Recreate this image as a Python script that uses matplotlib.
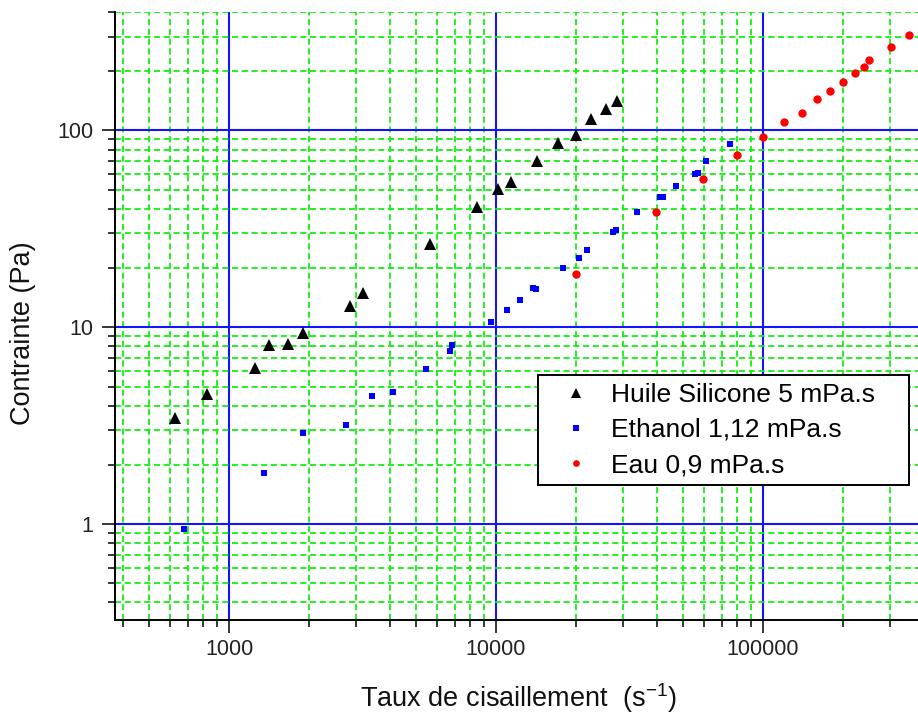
import matplotlib
matplotlib.use("Agg")
import matplotlib.pyplot as plt
from matplotlib.ticker import LogLocator, NullFormatter, FixedLocator, FixedFormatter

plt.rcParams['font.family'] = ['Liberation Sans', 'DejaVu Sans']

# ---- data ----
huile_x = [629, 825, 1255, 1408, 1666, 1888, 2839, 3162, 5635, 8488, 10148, 11380,
           14240, 17120, 19980, 22690, 25710, 28440]
huile_y = [3.47, 4.57, 6.21, 8.10, 8.27, 9.32, 12.8, 15.0, 26.5, 40.7, 50.2, 54.5,
           69.8, 86.4, 94.9, 114.8, 128.9, 142.0]

ethanol_x = [680, 1356, 1898, 2743, 3432, 4114, 5453, 6724, 6825, 9561, 11022, 12296,
             13723, 14117, 17806, 20400, 21860, 27400, 28170, 33830, 41250, 42330,
             47350, 55490, 56940, 60950, 75220]
ethanol_y = [0.943, 1.81, 2.89, 3.18, 4.49, 4.68, 6.12, 7.55, 8.10, 10.66, 12.2, 13.7,
             15.8, 15.65, 20.1, 22.5, 24.8, 30.4, 31.1, 38.7, 45.9, 45.9,
             52.5, 60.3, 61.0, 70.0, 84.9]

eau_x = [19850, 39740, 59700, 79690, 99750, 119500, 140000, 159750, 178200, 199800,
         221100, 239500, 250100, 300800, 351300]
eau_y = [18.6, 38.7, 56.9, 74.9, 92.5, 109.8, 123.0, 143.7, 159.6, 177.3,
         195.4, 210.6, 227.5, 266.0, 307.1]

labels = ["Huile Silicone 5 mPa.s", "Ethanol 1,12 mPa.s", "Eau 0,9 mPa.s"]
x_major = [1000, 10000, 100000]
x_major_labels = ["1000", "10000", "100000"]
y_major = [1, 10, 100]
y_major_labels = ["1", "10", "100"]
x_label = "Taux de cisaillement  (s$^{\\mathregular{-1}}$)"
y_label = "Contrainte (Pa)"

# ---- figure ----
W, H = 918, 715
fig = plt.figure(figsize=(W / 100, H / 100), dpi=100)
ax_left, ax_right, ax_top, ax_bottom = 115, 918, 12, 620
aw, ah = ax_right - ax_left, ax_bottom - ax_top
ax = fig.add_axes([ax_left / W, 1 - ax_bottom / H, aw / W, ah / H])

ax.set_xscale('log')
ax.set_yscale('log')
ax.set_xlim(374, 380600)
ax.set_ylim(0.3256, 400)

green = '#11f011'
blue_grid = '#1414ff'

ax.xaxis.set_major_locator(FixedLocator(x_major))
ax.xaxis.set_major_formatter(FixedFormatter(x_major_labels))
ax.yaxis.set_major_locator(FixedLocator(y_major))
ax.yaxis.set_major_formatter(FixedFormatter(y_major_labels))
ax.xaxis.set_minor_locator(LogLocator(base=10, subs=range(2, 10), numticks=20))
ax.yaxis.set_minor_locator(LogLocator(base=10, subs=range(2, 10), numticks=20))
ax.xaxis.set_minor_formatter(NullFormatter())
ax.yaxis.set_minor_formatter(NullFormatter())

ax.grid(which='minor', color=green, linewidth=1.3, linestyle=(0, (3.4, 2.0)), zorder=1)
ax.grid(which='major', color=blue_grid, linewidth=1.5, linestyle='-', zorder=1)
ax.set_axisbelow(True)

for s in ['top', 'right']:
    ax.spines[s].set_visible(False)
for s in ['left', 'bottom']:
    ax.spines[s].set_linewidth(1.4)
    ax.spines[s].set_color('black')

ax.tick_params(which='major', direction='out', length=9.5, width=1.1, colors='black',
               labelsize=15.5, labelcolor='#222222')
ax.tick_params(axis='x', which='major', pad=4)
ax.tick_params(axis='y', which='major', pad=6)
ax.tick_params(which='minor', direction='out', length=5, width=1.1, colors='black')

ax.plot(huile_x, huile_y, linestyle='none', marker='^', markersize=8.5, color='black',
        markeredgewidth=0, label=labels[0], zorder=3)
ax.plot(ethanol_x, ethanol_y, linestyle='none', marker='s', markersize=5, color='#0000ff',
        markeredgewidth=0, label=labels[1], zorder=3)
ax.plot(eau_x, eau_y, linestyle='none', marker='o', markersize=6, color='#ff0000',
        markeredgewidth=0, label=labels[2], zorder=3)

lx0 = (538 - ax_left) / aw
lx1 = (909 - ax_left) / aw
ly1 = (ax_bottom - 375) / ah
ly0 = (ax_bottom - 485) / ah
leg = ax.legend(loc='upper left', bbox_to_anchor=(lx0, ly0, lx1 - lx0, ly1 - ly0),
                mode='expand', borderaxespad=0, fontsize=19, frameon=True, fancybox=False,
                shadow=False, edgecolor='black', facecolor='white', framealpha=1, numpoints=1,
                markerscale=0.8, handlelength=2.3, handletextpad=0.15, borderpad=0.3,
                labelspacing=0.42)
leg.get_frame().set_linewidth(1.4)
leg.set_zorder(5)

fig.text(518 / W, 1 - 707 / H, x_label, ha='center', va='baseline', fontsize=19.5, color='#111111')
fig.text(23 / W, 1 - 333 / H, y_label, ha='center', va='center', rotation=90, fontsize=19.5,
         color='#111111')

fig.savefig('out.png', dpi=100)
